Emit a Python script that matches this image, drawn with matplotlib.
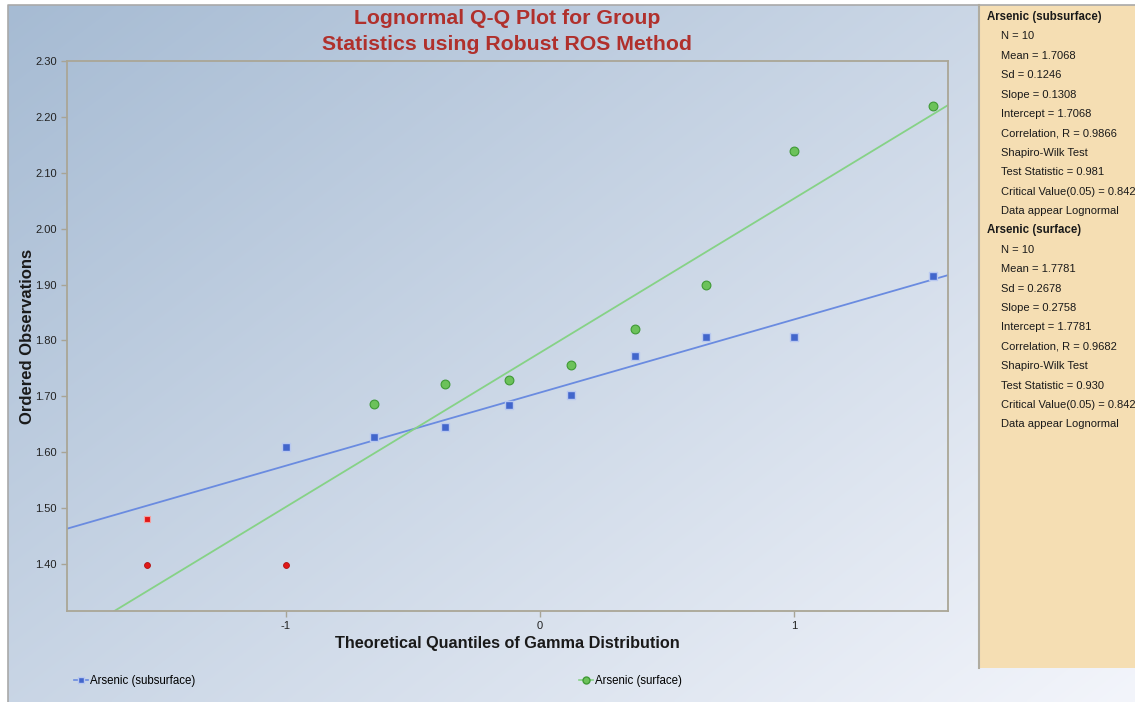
import numpy as np
import matplotlib
matplotlib.use("Agg")
from matplotlib import pyplot as plt
from matplotlib.lines import Line2D
from matplotlib.patches import Rectangle

plt.rcParams['font.family'] = ['Liberation Sans', 'DejaVu Sans']

# Blom normal quantiles for n = 10
quantiles = [-1.547, -1.000, -0.655, -0.375, -0.123, 0.123, 0.375, 0.655, 1.000, 1.547]
subsurface = [1.480, 1.609, 1.627, 1.646, 1.684, 1.703, 1.773, 1.807, 1.807, 1.915]
subsurface_nd = [True, False, False, False, False, False, False, False, False, False]
surface = [1.398, 1.398, 1.686, 1.723, 1.730, 1.756, 1.821, 1.900, 2.139, 2.219]
surface_nd = [True, True, False, False, False, False, False, False, False, False]

fit_sub = (0.1308, 1.7068)   # slope, intercept
fit_surf = (0.2758, 1.7781)

yticks = [1.40, 1.50, 1.60, 1.70, 1.80, 1.90, 2.00, 2.10, 2.20, 2.30]
xticks = [-1, 0, 1]

stats_sub = ["N = 10", "Mean = 1.7068", "Sd = 0.1246", "Slope = 0.1308",
             "Intercept = 1.7068", "Correlation, R = 0.9866", "Shapiro-Wilk Test",
             "Test Statistic = 0.981", "Critical Value(0.05) = 0.842",
             "Data appear Lognormal"]
stats_surf = ["N = 10", "Mean = 1.7781", "Sd = 0.2678", "Slope = 0.2758",
              "Intercept = 1.7781", "Correlation, R = 0.9682", "Shapiro-Wilk Test",
              "Test Statistic = 0.930", "Critical Value(0.05) = 0.842",
              "Data appear Lognormal"]

W, H = 1135, 702
fig = plt.figure(figsize=(W / 100, H / 100), dpi=100)
fig.patch.set_facecolor('white')

# background gradient
bg = fig.add_axes([0, 0, 1, 1], zorder=-10)
bg.set_xlim(0, W)
bg.set_ylim(H, 0)
bg.axis('off')
gx, gy = np.meshgrid(np.linspace(0, 1, 300), np.linspace(0, 1, 200))
t = np.clip(0.55 * gx + 0.45 * gy, 0, 1)
c0 = np.array([166, 187, 211]) / 255
c1 = np.array([243, 245, 251]) / 255
img = c0[None, None, :] * (1 - t[..., None]) + c1[None, None, :] * t[..., None]
bg.imshow(img, extent=[8, W, H, 5], aspect='auto', interpolation='bilinear')
bg.plot([8, 8, W], [H, 5, 5], color='#a9a9a9', lw=1.2)
bg.add_patch(Rectangle((979, 5), W - 979, 663, facecolor='#f5deb3', edgecolor='none'))
bg.plot([979, 979], [5, 668], color='#b0aca0', lw=1.5)

# stats panel text
yy = 17
bg.text(987, yy, "Arsenic (subsurface)", fontsize=8.3, fontweight='bold', va='center', color='#1a1a1a')
for s in stats_sub:
    yy += 19.4
    bg.text(1001, yy, s, fontsize=8, va='center', color='#1a1a1a')
yy += 19.4
bg.text(987, yy, "Arsenic (surface)", fontsize=8.3, fontweight='bold', va='center', color='#1a1a1a')
for s in stats_surf:
    yy += 19.4
    bg.text(1001, yy, s, fontsize=8, va='center', color='#1a1a1a')

# main plot
ax = fig.add_axes([67 / W, 1 - 611 / H, (948 - 67) / W, (611 - 61) / H])
ax.set_facecolor('none')
ax.set_xlim(-1.862, 1.606)
ax.set_ylim(1.316, 2.30)

q = np.array(quantiles)
sub = np.array(subsurface)
surf = np.array(surface)
snd = np.array(subsurface_nd)
fnd = np.array(surface_nd)

xl = np.array(ax.get_xlim())
ax.plot(xl, fit_sub[1] + fit_sub[0] * xl, color='#6a8be0', lw=1.3, zorder=2)
ax.plot(xl, fit_surf[1] + fit_surf[0] * xl, color='#86d286', lw=1.3, zorder=2)

ax.scatter(q[~snd], sub[~snd], marker='s', s=38, color='#4266cc', edgecolors='#b8c8f0', linewidths=1.0, zorder=3)
ax.scatter(q[snd], sub[snd], marker='s', s=18, color='#e01818', edgecolors='#f4a0a0', linewidths=0.8, zorder=3)
ax.scatter(q[~fnd], surf[~fnd], marker='o', s=40, color='#6cc25a', edgecolors='#3f9a35', linewidths=0.8, zorder=3)
ax.scatter(q[fnd], surf[fnd], marker='o', s=18, color='#e01818', edgecolors='#b01010', linewidths=0.6, zorder=3)

ax.set_xticks(xticks)
ax.set_xticklabels([str(v) for v in xticks])
ax.set_yticks(yticks)
ax.set_yticklabels([f"{v:.2f}" for v in yticks])
ax.tick_params(labelsize=8, colors='#a8a496', labelcolor='#222222', length=4, width=1)
for sp in ax.spines.values():
    sp.set_color('#aaa696')
    sp.set_linewidth(1.3)

ax.set_xlabel("Theoretical Quantiles of Gamma Distribution", fontsize=11.7, fontweight='bold',
              color='#1a1a1a', labelpad=3)
ax.set_ylabel("Ordered Observations", fontsize=12, fontweight='bold', color='#1a1a1a', labelpad=0)

fig.text(507 / W, 1 - 19 / H, "Lognormal Q-Q Plot for Group", ha='center', va='center',
         fontsize=15.3, fontweight='bold', color='#b0302c')
fig.text(507 / W, 1 - 45 / H, "Statistics using Robust ROS Method", ha='center', va='center',
         fontsize=15.3, fontweight='bold', color='#b0302c')

# legend
h1 = Line2D([], [], color='#6a8be0', marker='s', markersize=5, markerfacecolor='#4266cc',
            markeredgecolor='#b8c8f0', lw=1.2)
h2 = Line2D([], [], color='#86d286', marker='o', markersize=5, markerfacecolor='#6cc25a',
            markeredgecolor='#3f9a35', lw=1.2)
fig.legend([h1], ["Arsenic (subsurface)"], loc='center left', bbox_to_anchor=(68 / W, 1 - 681 / H),
           frameon=False, fontsize=8.3, handlelength=1.2, handletextpad=0.2, borderpad=0)
fig.legend([h2], ["Arsenic (surface)"], loc='center left', bbox_to_anchor=(573 / W, 1 - 681 / H),
           frameon=False, fontsize=8.3, handlelength=1.2, handletextpad=0.2, borderpad=0)

fig.savefig("out.png", dpi=100)
